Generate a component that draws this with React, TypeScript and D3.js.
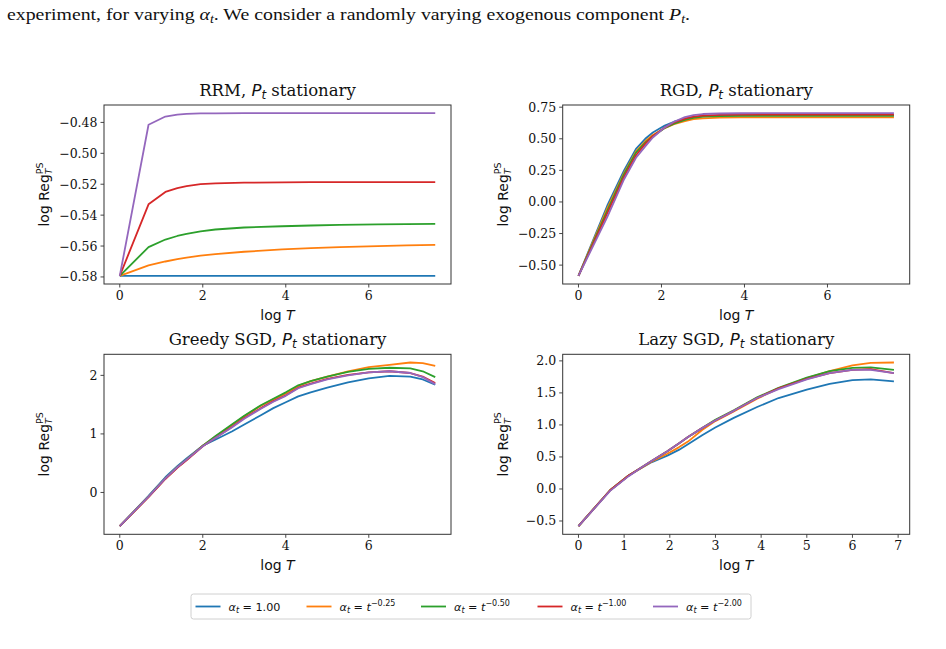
import React from 'react';
import * as d3 from 'd3';

const COLORS = ['#1f77b4', '#ff7f0e', '#2ca02c', '#d62728', '#9467bd'];
const LEGEND_EXP = ['1.00', '−0.25', '−0.50', '−1.00', '−2.00'];

// RRM
const rrmX = [0, 0.693, 1.099, 1.386, 1.609, 1.946, 2.303, 2.996, 3.912, 4.605, 5.298, 6.215, 6.908, 7.601];
const rrmBlue = [-0.5793, -0.5793, -0.5793, -0.5793, -0.5793, -0.5793, -0.5793, -0.5793, -0.5793, -0.5793, -0.5793, -0.5793, -0.5793, -0.5793];
const rrmOrange = [-0.5793, -0.5725, -0.57, -0.5685, -0.5675, -0.5662, -0.5652, -0.5637, -0.5622, -0.5614, -0.5607, -0.56, -0.5596, -0.5592];
const rrmGreen = [-0.5793, -0.5607, -0.5558, -0.5535, -0.5522, -0.5505, -0.5493, -0.548, -0.5472, -0.5467, -0.5463, -0.546, -0.5458, -0.5456];
const rrmRed = [-0.5793, -0.533, -0.525, -0.5225, -0.5212, -0.52, -0.5195, -0.519, -0.5188, -0.5187, -0.5187, -0.5187, -0.5187, -0.5187];
const rrmPurple = [-0.5793, -0.4815, -0.4762, -0.475, -0.4745, -0.4742, -0.4741, -0.474, -0.474, -0.474, -0.474, -0.474, -0.474, -0.474];

// RGD
const rgdX = [0, 0.693, 1.099, 1.386, 1.609, 1.792, 2.079, 2.303, 2.565, 2.773, 2.996, 3.401, 3.912, 4.605, 5.298, 6.215, 6.908, 7.601];
const rgdBlue = [-0.585, -0.03, 0.25, 0.42, 0.5, 0.55, 0.605, 0.635, 0.66, 0.672, 0.678, 0.683, 0.686, 0.687, 0.687, 0.687, 0.687, 0.687];
const rgdOrange = [-0.585, -0.05, 0.23, 0.4, 0.48, 0.53, 0.585, 0.615, 0.64, 0.655, 0.662, 0.667, 0.669, 0.669, 0.669, 0.669, 0.669, 0.669];
const rgdGreen = [-0.585, -0.07, 0.22, 0.39, 0.47, 0.52, 0.585, 0.62, 0.65, 0.665, 0.675, 0.68, 0.682, 0.682, 0.682, 0.682, 0.682, 0.682];
const rgdRed = [-0.585, -0.09, 0.2, 0.37, 0.46, 0.52, 0.59, 0.63, 0.66, 0.675, 0.683, 0.69, 0.692, 0.692, 0.692, 0.692, 0.692, 0.692];
const rgdPurple = [-0.585, -0.12, 0.18, 0.35, 0.44, 0.51, 0.59, 0.635, 0.672, 0.688, 0.696, 0.7, 0.702, 0.703, 0.703, 0.703, 0.703, 0.703];

// Greedy SGD
const grX = [0, 0.693, 1.099, 1.386, 1.609, 2.0, 2.3, 2.7, 3.0, 3.4, 3.7, 4.0, 4.3, 4.6, 5.0, 5.5, 6.0, 6.5, 7.0, 7.3, 7.601];
const grBlue = [-0.575, -0.06, 0.26, 0.45, 0.58, 0.8, 0.9, 1.04, 1.16, 1.32, 1.44, 1.54, 1.64, 1.71, 1.79, 1.88, 1.95, 1.99, 1.98, 1.93, 1.84];
const grOrange = [-0.575, -0.07, 0.24, 0.43, 0.56, 0.8, 0.95, 1.15, 1.3, 1.48, 1.59, 1.69, 1.82, 1.9, 1.98, 2.07, 2.14, 2.18, 2.22, 2.21, 2.16];
const grGreen = [-0.575, -0.07, 0.24, 0.43, 0.56, 0.8, 0.96, 1.16, 1.31, 1.49, 1.6, 1.71, 1.83, 1.9, 1.98, 2.06, 2.11, 2.13, 2.12, 2.07, 1.97];
const grRed = [-0.575, -0.08, 0.23, 0.42, 0.55, 0.79, 0.93, 1.12, 1.27, 1.44, 1.56, 1.66, 1.79, 1.86, 1.94, 2.01, 2.05, 2.07, 2.04, 1.98, 1.87];
const grPurple = [-0.575, -0.07, 0.24, 0.43, 0.56, 0.79, 0.93, 1.11, 1.26, 1.43, 1.55, 1.65, 1.78, 1.85, 1.93, 2.0, 2.05, 2.07, 2.04, 1.97, 1.85];

// Lazy SGD
const lzX = [0, 0.693, 1.099, 1.386, 1.609, 1.946, 2.197, 2.398, 2.708, 2.996, 3.401, 3.912, 4.382, 5.0, 5.5, 6.0, 6.4, 6.908];
const lzBlue = [-0.58, -0.02, 0.21, 0.33, 0.42, 0.52, 0.61, 0.7, 0.84, 0.96, 1.11, 1.28, 1.42, 1.55, 1.64, 1.7, 1.71, 1.68];
const lzOrange = [-0.58, -0.02, 0.21, 0.33, 0.43, 0.55, 0.65, 0.74, 0.92, 1.06, 1.21, 1.41, 1.57, 1.73, 1.84, 1.93, 1.97, 1.975];
const lzGreen = [-0.58, -0.02, 0.21, 0.34, 0.44, 0.59, 0.71, 0.81, 0.95, 1.08, 1.23, 1.43, 1.58, 1.74, 1.84, 1.89, 1.9, 1.86];
const lzRed = [-0.58, -0.02, 0.21, 0.34, 0.44, 0.59, 0.71, 0.81, 0.95, 1.07, 1.22, 1.42, 1.57, 1.72, 1.81, 1.86, 1.87, 1.81];
const lzPurple = [-0.58, -0.03, 0.2, 0.34, 0.44, 0.59, 0.71, 0.81, 0.95, 1.07, 1.22, 1.42, 1.56, 1.71, 1.81, 1.86, 1.86, 1.81];

const xTicks07 = [0, 2, 4, 6];
const xTicksLazy = [0, 1, 2, 3, 4, 5, 6, 7];
const yTicksRRM = [-0.58, -0.56, -0.54, -0.52, -0.5, -0.48];
const yTicksRGD = [-0.5, -0.25, 0, 0.25, 0.5, 0.75];
const yTicksGreedy = [0, 1, 2];
const yTicksLazy = [-0.5, 0, 0.5, 1, 1.5, 2];

const SERIF = '"DejaVu Serif", serif';
const SANS = '"DejaVu Sans", sans-serif';

type PanelProps = {
  left: number; top: number; width: number; height: number;
  title: string; xs: number[]; series: number[][];
  xTicks: number[]; yTicks: number[]; yDec: number;
};

function fmt(v: number, dec: number) {
  const s = Math.abs(v).toFixed(dec);
  return v < -1e-9 ? '−' + s : s;
}

function Panel(p: PanelProps) {
  const xExt = d3.extent(p.xs) as [number, number];
  const all = p.series.flat();
  const yExt = d3.extent(all) as [number, number];
  const xm = (xExt[1] - xExt[0]) * 0.05;
  const ym = (yExt[1] - yExt[0]) * 0.05;
  const x = d3.scaleLinear().domain([xExt[0] - xm, xExt[1] + xm]).range([p.left, p.left + p.width]);
  const y = d3.scaleLinear().domain([yExt[0] - ym, yExt[1] + ym]).range([p.top + p.height, p.top]);
  const line = d3.line<number>().x((_, i) => x(p.xs[i])).y((d) => y(d));
  const bottom = p.top + p.height;
  const cx = p.left + p.width / 2;
  const cy = p.top + p.height / 2;
  const ylx = p.left - 55;
  return (
    <g>
      {p.series.map((s, i) => (
        <path key={i} d={line(s) || ''} fill="none" stroke={COLORS[i]} strokeWidth={1.8} strokeLinejoin="round" />
      ))}
      <rect x={p.left} y={p.top} width={p.width} height={p.height} fill="none" stroke="#333" strokeWidth={1} />
      {p.xTicks.map((t) => (
        <g key={'x' + t}>
          <line x1={x(t)} x2={x(t)} y1={bottom} y2={bottom + 3.5} stroke="#333" strokeWidth={0.9} />
          <text x={x(t)} y={bottom + 16} textAnchor="middle" fontFamily={SERIF} fontSize={12.5} fill="#111">{fmt(t, 0)}</text>
        </g>
      ))}
      {p.yTicks.map((t) => (
        <g key={'y' + t}>
          <line x1={p.left - 3.5} x2={p.left} y1={y(t)} y2={y(t)} stroke="#333" strokeWidth={0.9} />
          <text x={p.left - 6.5} y={y(t) + 4.5} textAnchor="end" fontFamily={SERIF} fontSize={12.5} fill="#111">{fmt(t, p.yDec)}</text>
        </g>
      ))}
      <text x={cx} y={p.top - 9} textAnchor="middle" fontFamily={SERIF} fontSize={16.5} fill="#111">
        {p.title}
        <tspan fontFamily={SANS} fontStyle="italic">P</tspan>
        <tspan fontFamily={SANS} fontStyle="italic" fontSize={12} dy={3}>t</tspan>
        <tspan dy={-3}> stationary</tspan>
      </text>
      <text x={cx} y={bottom + 36} textAnchor="middle" fontFamily={SANS} fontSize={14} fill="#111">
        log <tspan fontStyle="italic">T</tspan>
      </text>
      <text transform={`translate(${ylx},${cy}) rotate(-90)`} textAnchor="middle" fontFamily={SANS} fontSize={14} fill="#111">
        log Reg
        <tspan fontStyle="italic" fontSize={9.5} dy={3}>T</tspan>
        <tspan fontSize={9.5} dx={-5.8} dy={-9.5}>PS</tspan>
      </text>
    </g>
  );
}

function Legend() {
  const x0 = 191, y0 = 594, w = 560, h = 25;
  const starts = [195.5, 306.5, 421, 537.5, 653];
  return (
    <g>
      <rect x={x0} y={y0} width={w} height={h} rx={2.5} fill="#fff" stroke="#d0d0d0" strokeWidth={1} />
      {LEGEND_EXP.map((e, i) => {
        const sx = starts[i];
        const ly = y0 + h / 2;
        return (
          <g key={i}>
            <line x1={sx} x2={sx + 25} y1={ly} y2={ly} stroke={COLORS[i]} strokeWidth={1.8} />
            <text x={sx + 33} y={ly + 4} fontFamily={SANS} fontSize={11.2} fill="#111">
              <tspan fontStyle="italic">α</tspan>
              <tspan fontStyle="italic" fontSize={8} dy={2}>t</tspan>
              {i === 0 ? (
                <tspan dy={-2}> = 1.00</tspan>
              ) : (
                <>
                  <tspan dy={-2}> = </tspan>
                  <tspan fontStyle="italic">t</tspan>
                  <tspan fontSize={8} dy={-4.5}>{e}</tspan>
                </>
              )}
            </text>
          </g>
        );
      })}
    </g>
  );
}

export default function App() {
  const colL = 104, colR = 562.7, w = 347, rowT = 105, rowB = 354.3, hT = 179, hB = 180;
  return (
    <svg width={946} height={649} style={{ position: 'absolute', left: 0, top: 0, background: '#fff' }}>
      <rect x={0} y={0} width={946} height={649} fill="#fff" />
      <text x={7} y={20} fontFamily={'"Liberation Serif", serif'} fontSize={17} fill="#111" textLength={683} lengthAdjust="spacingAndGlyphs">
        experiment, for varying <tspan fontStyle="italic">α</tspan><tspan fontStyle="italic" fontSize={12} dy={3}>t</tspan><tspan dy={-3}>. We consider a randomly varying exogenous component </tspan><tspan fontStyle="italic">P</tspan><tspan fontStyle="italic" fontSize={12} dy={3}>t</tspan><tspan dy={-3}>.</tspan>
      </text>
      <Panel left={colL} top={rowT} width={w} height={hT} title="RRM, " xs={rrmX}
        series={[rrmBlue, rrmOrange, rrmGreen, rrmRed, rrmPurple]} xTicks={xTicks07} yTicks={yTicksRRM} yDec={2} />
      <Panel left={colR} top={rowT} width={w} height={hT} title="RGD, " xs={rgdX}
        series={[rgdBlue, rgdOrange, rgdGreen, rgdRed, rgdPurple]} xTicks={xTicks07} yTicks={yTicksRGD} yDec={2} />
      <Panel left={colL} top={rowB} width={w} height={hB} title="Greedy SGD, " xs={grX}
        series={[grBlue, grOrange, grGreen, grRed, grPurple]} xTicks={xTicks07} yTicks={yTicksGreedy} yDec={0} />
      <Panel left={colR} top={rowB} width={w} height={hB} title="Lazy SGD, " xs={lzX}
        series={[lzBlue, lzOrange, lzGreen, lzRed, lzPurple]} xTicks={xTicksLazy} yTicks={yTicksLazy} yDec={1} />
      <Legend />
    </svg>
  );
}
